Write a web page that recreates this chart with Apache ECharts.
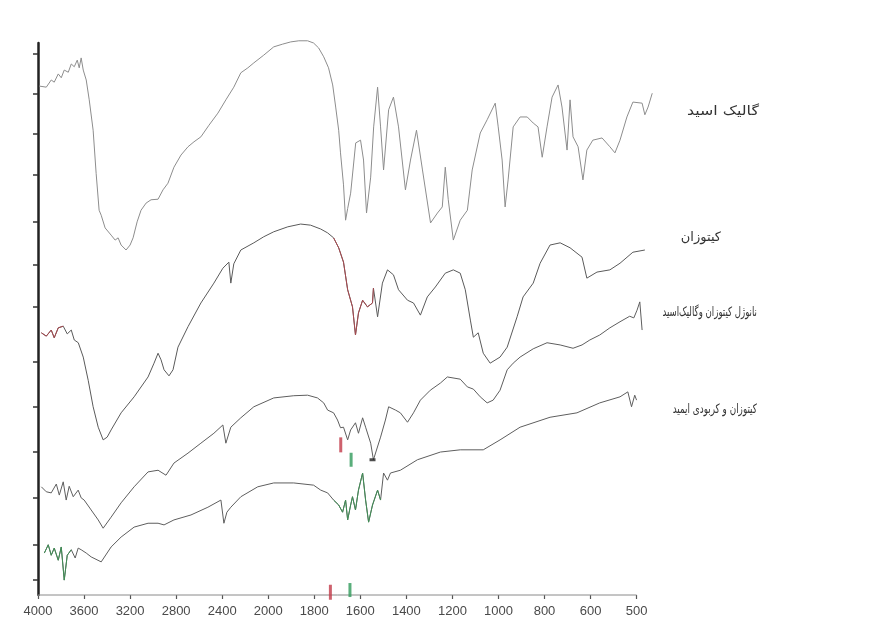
<!DOCTYPE html>
<html><head><meta charset="utf-8">
<script src="https://cdn.jsdelivr.net/npm/echarts@6/dist/echarts.min.js"></script>
<style>html,body{margin:0;padding:0;background:#fff}#c{width:871px;height:624px}</style>
</head><body><div id="c"></div>
<script>
// x tick labels (wavenumber, cm-1), drawn evenly spaced as in the original
const xTicks = [4000,3600,3200,2800,2400,2000,1800,1600,1400,1200,1000,800,600,500];
// y tick positions (relative transmittance scale 0-100, no labels)
const yTicks = [2.7,9.1,17.6,25.9,34.1,42.2,52.2,59.8,67.6,76.1,83.5,90.8,98.0];

const seriesNames = ['گالیک اسید','کیتوزان','نانوژل کیتوزان وگالیک‌اسید','کیتوزان و کربودی ایمید'];

// [wavenumber, transmittance]
const gallicAcid = [[3990,92.2],[3928,92.0],[3885,93.3],[3859,92.9],[3824,94.4],[3798,93.7],[3772,95.1],[3737,94.7],[3711,96.2],[3685,95.7],[3659,96.9],[3642,95.5],[3625,97.3],[3607,95.1],[3581,93.3],[3555,89.7],[3521,84.2],[3495,76.4],[3469,69.7],[3451,68.8],[3417,66.5],[3365,65.2],[3330,64.3],[3304,64.7],[3278,63.4],[3235,62.5],[3200,63.4],[3174,64.7],[3139,67.6],[3105,69.7],[3061,71.0],[3018,71.6],[2957,71.7],[2914,73.4],[2871,74.6],[2819,77.5],[2758,79.7],[2697,81.2],[2645,82.1],[2585,83.0],[2515,85.1],[2437,87.3],[2368,89.7],[2299,92.0],[2238,94.6],[2177,95.5],[2125,96.4],[2039,97.8],[1976,99.3],[1937,99.8],[1902,100.2],[1867,100.4],[1829,100.4],[1803,100.0],[1781,99.1],[1759,97.5],[1738,95.5],[1720,92.4],[1707,88.4],[1694,84.2],[1686,80.1],[1673,74.3],[1664,67.9],[1655,70.0],[1642,72.8],[1620,81.9],[1599,82.4],[1586,78.8],[1573,69.2],[1555,75.7],[1542,84.8],[1525,92.0],[1512,84.8],[1499,77.0],[1477,87.9],[1456,90.2],[1434,84.8],[1404,73.4],[1382,78.8],[1356,84.2],[1330,77.0],[1295,67.4],[1265,69.2],[1244,70.3],[1231,77.5],[1218,71.6],[1196,64.3],[1166,67.9],[1135,69.7],[1114,77.0],[1079,83.7],[1049,86.1],[1014,89.1],[1001,84.8],[984,78.8],[971,70.3],[958,75.2],[936,84.8],[906,86.6],[875,86.6],[849,85.5],[828,84.8],[810,79.3],[789,84.8],[767,90.2],[741,92.4],[724,88.4],[702,80.6],[689,89.7],[676,83.0],[654,81.2],[633,75.2],[616,80.6],[595,82.4],[575,82.8],[558,81.2],[547,80.1],[536,82.4],[521,86.6],[508,89.3],[488,89.1],[482,87.0],[475,88.4],[466,90.9]];

const chitosan = [[3971,47.5],[3928,46.9],[3885,48.0],[3859,46.6],[3824,48.4],[3781,48.7],[3746,47.3],[3711,48.0],[3685,46.2],[3650,45.7],[3607,43.1],[3564,38.9],[3521,34.1],[3477,30.4],[3434,28.1],[3399,28.6],[3365,29.9],[3278,33.0],[3165,35.9],[3044,39.5],[2992,42.0],[2957,43.8],[2931,42.6],[2905,40.8],[2862,39.7],[2827,40.8],[2784,44.9],[2697,48.6],[2585,52.9],[2472,56.5],[2394,59.2],[2342,60.3],[2325,56.5],[2299,60.0],[2238,62.5],[2125,63.8],[2039,64.9],[1976,65.8],[1915,66.7],[1859,67.2],[1816,67.0],[1772,66.3],[1742,65.6],[1716,64.7],[1694,62.9],[1673,60.3],[1655,55.3],[1634,52.2],[1621,47.1],[1608,51.1],[1590,53.4],[1569,52.2],[1547,52.9],[1543,55.6],[1525,50.4],[1504,56.5],[1482,58.9],[1456,58.0],[1434,55.3],[1395,53.4],[1369,52.9],[1339,50.7],[1309,54.0],[1274,55.8],[1231,58.3],[1196,58.9],[1166,58.3],[1144,55.3],[1122,49.8],[1109,46.7],[1088,47.5],[1066,43.8],[1036,42.0],[993,43.1],[962,44.9],[919,50.4],[893,54.0],[849,56.5],[819,60.1],[776,63.4],[732,63.8],[689,62.9],[637,61.2],[616,57.4],[586,58.5],[558,58.9],[536,60.1],[508,62.1],[482,62.5]];

const nanogel = [[3971,19.6],[3928,18.7],[3885,18.5],[3841,20.1],[3815,18.1],[3781,20.5],[3755,17.2],[3729,19.7],[3694,17.8],[3651,19.0],[3625,17.6],[3599,17.2],[3538,15.4],[3477,13.6],[3434,12.1],[3365,14.1],[3278,16.7],[3165,19.6],[3044,22.3],[2957,22.6],[2888,21.7],[2819,23.9],[2697,25.7],[2585,27.5],[2472,29.3],[2394,30.8],[2368,27.5],[2325,30.4],[2238,32.1],[2125,34.1],[1976,35.7],[1889,36.1],[1829,36.2],[1786,35.7],[1759,34.8],[1742,33.5],[1716,33.0],[1699,31.7],[1686,30.3],[1673,30.4],[1655,28.1],[1642,29.9],[1621,31.2],[1608,29.3],[1590,32.1],[1577,30.4],[1555,27.5],[1543,24.5],[1512,28.6],[1491,31.7],[1477,34.1],[1447,33.5],[1426,33.0],[1395,31.3],[1369,33.0],[1339,35.3],[1296,37.1],[1252,38.4],[1222,39.5],[1166,39.1],[1135,37.7],[1109,37.3],[1079,35.9],[1049,34.8],[1023,35.3],[993,37.1],[962,40.8],[936,42.0],[906,43.1],[849,44.6],[789,45.7],[732,45.3],[676,44.7],[637,45.3],[603,46.2],[580,47.1],[558,48.4],[536,49.5],[515,50.5],[506,50.2],[499,51.6],[493,53.1],[488,48.0]];

const chitosanCarbodiimide = [[3945,7.6],[3911,9.1],[3885,7.2],[3859,8.5],[3824,6.3],[3798,8.7],[3772,2.7],[3746,7.2],[3711,8.2],[3677,6.7],[3651,8.5],[3625,8.2],[3581,7.6],[3538,6.9],[3451,6.0],[3365,8.7],[3278,10.5],[3165,12.3],[3044,13.0],[2957,13.0],[2905,12.7],[2819,13.6],[2671,14.5],[2524,15.9],[2411,17.2],[2385,13.0],[2359,15.0],[2325,15.9],[2238,17.8],[2091,19.6],[1976,20.3],[1889,20.3],[1803,19.9],[1772,19.0],[1742,18.5],[1716,17.2],[1694,16.3],[1677,15.0],[1664,17.2],[1655,13.6],[1642,16.3],[1634,17.8],[1621,15.4],[1608,19.0],[1590,22.1],[1577,17.2],[1564,13.2],[1547,16.3],[1525,19.0],[1512,17.2],[1499,22.1],[1482,20.8],[1469,22.1],[1426,22.6],[1352,24.5],[1252,25.9],[1166,26.3],[1066,26.3],[993,28.1],[906,30.4],[776,32.2],[659,33.0],[580,34.8],[536,35.9],[519,36.8],[511,34.1],[504,36.2],[500,35.3]];

// small band markers [wavenumber, transmittance]
const redMarks = [[1730,0.5],[1685,27.2]];
const greenMarks = [[1645,0.9],[1640,24.5]];
const blackMarks = [[1547,24.5]];
// x-axis baseline, from first to last tick
const baseline = [[4000,0],[500,0]];

function toIdx(wn){
  let i = 0;
  while (i < xTicks.length - 2 && wn < xTicks[i+1]) i++;
  return i + (xTicks[i] - wn) / (xTicks[i] - xTicks[i+1]);
}
const conv = arr => arr.map(p => [toIdx(p[0]), p[1]]);
const inRanges = (arr, ranges) => arr.filter(p => ranges.some(r => p[0] <= r[0] && p[0] >= r[1]));

function line(data, color, z, w){
  return {type:'line', data:conv(data), symbol:'none', clip:false, silent:true, z:z||2,
    lineStyle:{color:color, width:w||1}, animation:false};
}
function segs(data, ranges, color){
  return ranges.map(r => line(inRanges(data,[r]), color, 3));
}

const chart = echarts.init(document.getElementById('c'), null, {renderer:'canvas'});
const series = [
  line(baseline,'#8a8a8a',1),
  line(gallicAcid,'#8d8d8d'),
  line(chitosan,'#5a5a5a'),
  line(nanogel,'#5e5e5e'),
  line(chitosanCarbodiimide,'#5e5e5e'),
  ...segs(chitosan, [[3990,3780],[1720,1540]], '#a8484e'),
  ...segs(chitosanCarbodiimide, [[3990,3700],[1720,1510]], '#3f8f55'),
  {type:'scatter', data:conv(redMarks), symbol:'rect', symbolSize:[3,15], itemStyle:{color:'#c23a48'}, clip:false, silent:true, z:5, animation:false},
  {type:'scatter', data:conv(greenMarks), symbol:'rect', symbolSize:[3,14], itemStyle:{color:'#2f9a5a'}, clip:false, silent:true, z:5, animation:false},
  {type:'scatter', data:conv(blackMarks), symbol:'rect', symbolSize:[6,3], itemStyle:{color:'#222'}, clip:false, silent:true, z:5, animation:false}
];

const tickIdx = xTicks.map((_,i)=>i);
const labelPos = [[759,112],[721,238],[757,313],[757,410]];
const labelScale = [1.22,1,0.66,0.68];
chart.setOption({
  animation:false,
  grid:{left:38, right:216, top:43, bottom:29},
  xAxis:{type:'value', min:0, max:13.4,
    axisLine:{show:false},
    axisTick:{show:true, length:4, customValues:tickIdx, lineStyle:{color:'#555', width:1.2}},
    splitLine:{show:false},
    axisLabel:{show:true, margin:10, customValues:tickIdx, color:'#4a4a4a', fontSize:13, fontFamily:'Liberation Sans, Arial, sans-serif',
      formatter: v => { const i = Math.round(v); return (Math.abs(v-i)<1e-6 && xTicks[i]!==undefined) ? String(xTicks[i]) : ''; }}
  },
  yAxis:{type:'value', min:0, max:100,
    axisLine:{show:true, lineStyle:{color:'#222', width:2.5}},
    axisTick:{show:true, length:5, customValues:yTicks, lineStyle:{color:'#333', width:1.5}},
    axisLabel:{show:false},
    splitLine:{show:false}
  },
  graphic: seriesNames.map((t,i)=>({type:'text', x:labelPos[i][0], y:labelPos[i][1], scaleX:labelScale[i],
    style:{text:t, fill:'#333', font:'13px "DejaVu Sans", sans-serif', align:'right', verticalAlign:'middle'}})),
  series: series
});
</script>
</body></html>
